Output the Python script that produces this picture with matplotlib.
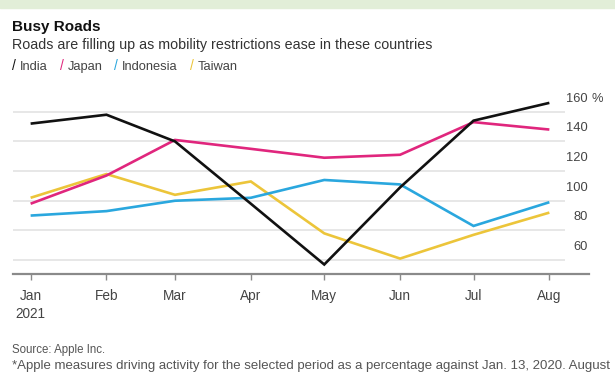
import numpy as np
import pandas as pd
import matplotlib
matplotlib.use("Agg")
import matplotlib.pyplot as plt
import matplotlib.transforms as mtransforms


# =========================
# Data (% of Jan 13 2020 driving activity)
# =========================
months = ["2021-01-01", "2021-02-01", "2021-03-01", "2021-04-01",
          "2021-05-01", "2021-06-01", "2021-07-01", "2021-08-01"]
month_labels = ["Jan\n2021", "Feb", "Mar", "Apr", "May", "Jun", "Jul", "Aug"]

india = [152, 158, 140, 98, 57, 109, 154, 166]
japan = [98, 117, 141, 135, 129, 131, 153, 148]
indonesia = [90, 93, 100, 102, 114, 111, 83, 99]
taiwan = [102, 118, 104, 113, 78, 61, 77, 92]

series_names = ["India", "Japan", "Indonesia", "Taiwan"]
series_colors = ["#111111", "#e0267d", "#2aa7de", "#ecc53a"]

y_ticks = [60, 80, 100, 120, 140, 160]


# =========================
# Figure
# =========================
plt.rcParams["font.family"] = ["Liberation Sans", "DejaVu Sans"]

W, H = 615, 374
fig = plt.figure(figsize=(W / 100, H / 100), dpi=100)
fig.patch.set_facecolor("white")

# light green band at the top
fig.patches.append(plt.Rectangle((0, 1 - 8 / H), 1, 8 / H, transform=fig.transFigure,
                                 color="#e2eed8", zorder=0))

ax = fig.add_axes([13 / W, 1 - 274 / H, 576 / W, 179 / H])

dates = pd.to_datetime(months)
values = [india, japan, indonesia, taiwan]

# draw Taiwan first so India ends up on top
for name, vals, col in reversed(list(zip(series_names, values, series_colors))):
    ax.plot(dates, vals, color=col, linewidth=1.9, solid_joinstyle="miter",
            solid_capstyle="butt", zorder=3)

ax.set_xlim(dates[0] - pd.Timedelta(days=7.2), dates[-1] + pd.Timedelta(days=16.2))
ax.set_ylim(50.6, 171.3)

# gridlines stop before the right labels
ax.hlines(y_ticks, 0, 0.958, transform=ax.get_yaxis_transform(),
          color="#e3e3e3", linewidth=1.2, zorder=1)

# y labels sit above their gridline, right side
lbl_off = mtransforms.offset_copy(ax.get_yaxis_transform(), fig=fig, x=0, y=9.5, units="points")
for v in y_ticks:
    ax.text(0.998, v, str(v), transform=lbl_off, ha="right", va="center",
            fontsize=9.3, color="#444444")
ax.text(1.005, y_ticks[-1], "%", transform=lbl_off, ha="left", va="center",
        fontsize=9.3, color="#444444")

for s in ["top", "right", "left"]:
    ax.spines[s].set_visible(False)
ax.spines["bottom"].set_color("#8a8a8a")
ax.spines["bottom"].set_linewidth(1.6)

ax.set_yticks([])
ax.set_xticks(dates)
ax.set_xticklabels(month_labels)
ax.tick_params(axis="x", length=4.5, width=1, color="#8a8a8a", pad=6,
               labelsize=9.8, labelcolor="#444444")
ax.get_xticklabels()[0].set_linespacing(1.4)

# =========================
# Titles, legend, notes
# =========================
fig.text(12 / W, 1 - 31 / H, "Busy Roads", fontsize=11, fontweight="bold",
         color="#111111", va="baseline")
fig.text(12 / W, 1 - 48.5 / H,
         "Roads are filling up as mobility restrictions ease in these countries",
         fontsize=10.3, color="#333333", va="baseline")

renderer = fig.canvas.get_renderer()
x = 12
for name, col in zip(series_names, series_colors):
    t = fig.text(x / W, 1 - 70 / H, "/", fontsize=10, color=col, va="baseline")
    x += t.get_window_extent(renderer).width + 4
    t = fig.text(x / W, 1 - 70 / H, name, fontsize=9.3, color="#444444", va="baseline")
    x += t.get_window_extent(renderer).width + 12

fig.text(12 / W, 1 - 353 / H, "Source: Apple Inc.", fontsize=8.3, color="#555555",
         va="baseline")
fig.text(12 / W, 1 - 369 / H,
         "*Apple measures driving activity for the selected period as a percentage "
         "against Jan. 13, 2020. August",
         fontsize=9.5, color="#555555", va="baseline")

fig.savefig("out.png", dpi=100)
